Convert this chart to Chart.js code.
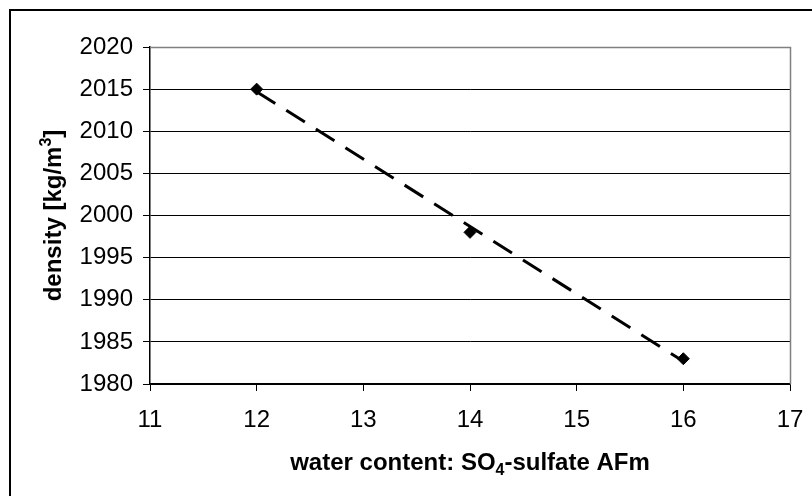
<!DOCTYPE html>
<html>
<head>
<meta charset="utf-8">
<script src="https://cdn.jsdelivr.net/npm/chart.js@4"></script>
<style>
  html, body { margin: 0; padding: 0; background: #fff; }
  #wrap { width: 812px; height: 496px; }
</style>
</head>
<body>
<div id="wrap"><canvas id="densityChart" width="812" height="496"></canvas></div>
<script>
// water content vs. density
const waterContent = [12, 14, 16];
const density = [2015, 1998, 1983];
// linear trend line end points
const trendX = [12, 16];
const trendY = [2014.7, 1982.7];
const xTicks = [11, 12, 13, 14, 15, 16, 17];
const yTicks = [1980, 1985, 1990, 1995, 2000, 2005, 2010, 2015, 2020];

const FONT = "Arial, 'Liberation Sans', sans-serif";

// draws the outer frame, the grey top/right border and the axis titles
const decorations = {
  id: "decorations",
  beforeDraw(chart) {
    const ctx = chart.ctx;
    ctx.save();
    ctx.fillStyle = "#fff";
    ctx.fillRect(0, 0, chart.width, chart.height);
    ctx.strokeStyle = "#000";
    ctx.lineWidth = 2;
    ctx.strokeRect(10, 10, chart.width + 20, chart.height + 20);
    ctx.restore();
  },
  afterDraw(chart) {
    const ctx = chart.ctx;
    const a = chart.chartArea;
    ctx.save();
    ctx.strokeStyle = "#808080";
    ctx.lineWidth = 1.5;
    ctx.beginPath();
    ctx.moveTo(a.left, a.top + 0.5);
    ctx.lineTo(a.right + 0.5, a.top + 0.5);
    ctx.lineTo(a.right + 0.5, a.bottom);
    ctx.stroke();

    ctx.fillStyle = "#000";
    ctx.textBaseline = "alphabetic";

    // x title with subscript
    const big = "bold 24px " + FONT, small = "bold 16px " + FONT;
    const p1 = "water content: SO", p2 = "4", p3 = "-sulfate AFm";
    ctx.font = big;
    const w1 = ctx.measureText(p1).width, w3 = ctx.measureText(p3).width;
    ctx.font = small;
    const w2 = ctx.measureText(p2).width;
    let x = (a.left + a.right) / 2 - (w1 + w2 + w3) / 2;
    const yb = 470;
    ctx.font = big; ctx.fillText(p1, x, yb); x += w1;
    ctx.font = small; ctx.fillText(p2, x, yb + 5); x += w2;
    ctx.font = big; ctx.fillText(p3, x, yb);

    // y title with superscript, rotated
    ctx.translate(61, (a.top + a.bottom) / 2);
    ctx.rotate(-Math.PI / 2);
    const q1 = "density [kg/m", q2 = "3", q3 = "]";
    ctx.font = big;
    const v1 = ctx.measureText(q1).width, v3 = ctx.measureText(q3).width;
    ctx.font = small;
    const v2 = ctx.measureText(q2).width;
    let t = -(v1 + v2 + v3) / 2;
    ctx.font = big; ctx.fillText(q1, t, 0); t += v1;
    ctx.font = small; ctx.fillText(q2, t, -10); t += v2;
    ctx.font = big; ctx.fillText(q3, t, 0);
    ctx.restore();
  }
};

new Chart(document.getElementById("densityChart"), {
  type: "scatter",
  data: {
    datasets: [
      {
        label: "density",
        data: waterContent.map((w, i) => ({ x: w, y: density[i] })),
        pointStyle: "rectRot",
        pointRadius: 6,
        backgroundColor: "#000",
        borderColor: "#000",
        showLine: false,
        order: 0
      },
      {
        label: "trend",
        data: trendX.map((w, i) => ({ x: w, y: trendY[i] })),
        showLine: true,
        borderColor: "#000",
        borderWidth: 3,
        borderDash: [22, 13],
        pointRadius: 0,
        order: 1
      }
    ]
  },
  plugins: [decorations],
  options: {
    responsive: false,
    animation: false,
    layout: { padding: { top: 47, right: 22, left: 0, bottom: 0 } },
    plugins: {
      legend: { display: false },
      tooltip: { enabled: false }
    },
    scales: {
      x: {
        type: "linear",
        min: 11,
        max: 17,
        afterBuildTicks: s => { s.ticks = xTicks.map(v => ({ value: v })); },
        afterFit: s => { s.height = 112; s.paddingLeft = 0; s.paddingRight = 0; },
        ticks: { color: "#000", font: { family: FONT, size: 24 }, padding: 15, maxRotation: 0, callback: v => String(v) },
        grid: { drawOnChartArea: false, tickLength: 7, tickColor: "#000", color: "#000" },
        border: { color: "#000", width: 1.5 }
      },
      y: {
        type: "linear",
        min: 1980,
        max: 2020,
        afterBuildTicks: s => { s.ticks = yTicks.map(v => ({ value: v })); },
        afterFit: s => { s.width = 150; s.paddingTop = 0; s.paddingBottom = 0; },
        ticks: { color: "#000", font: { family: FONT, size: 24 }, padding: 10, callback: v => String(v) },
        grid: {
          tickLength: 7,
          tickColor: "#000",
          color: c => (c.tick && c.tick.value === 2020 ? "rgba(0,0,0,0)" : "#000"),
          lineWidth: 1
        },
        border: { color: "#000", width: 1.5 }
      }
    }
  }
});
</script>
</body>
</html>
